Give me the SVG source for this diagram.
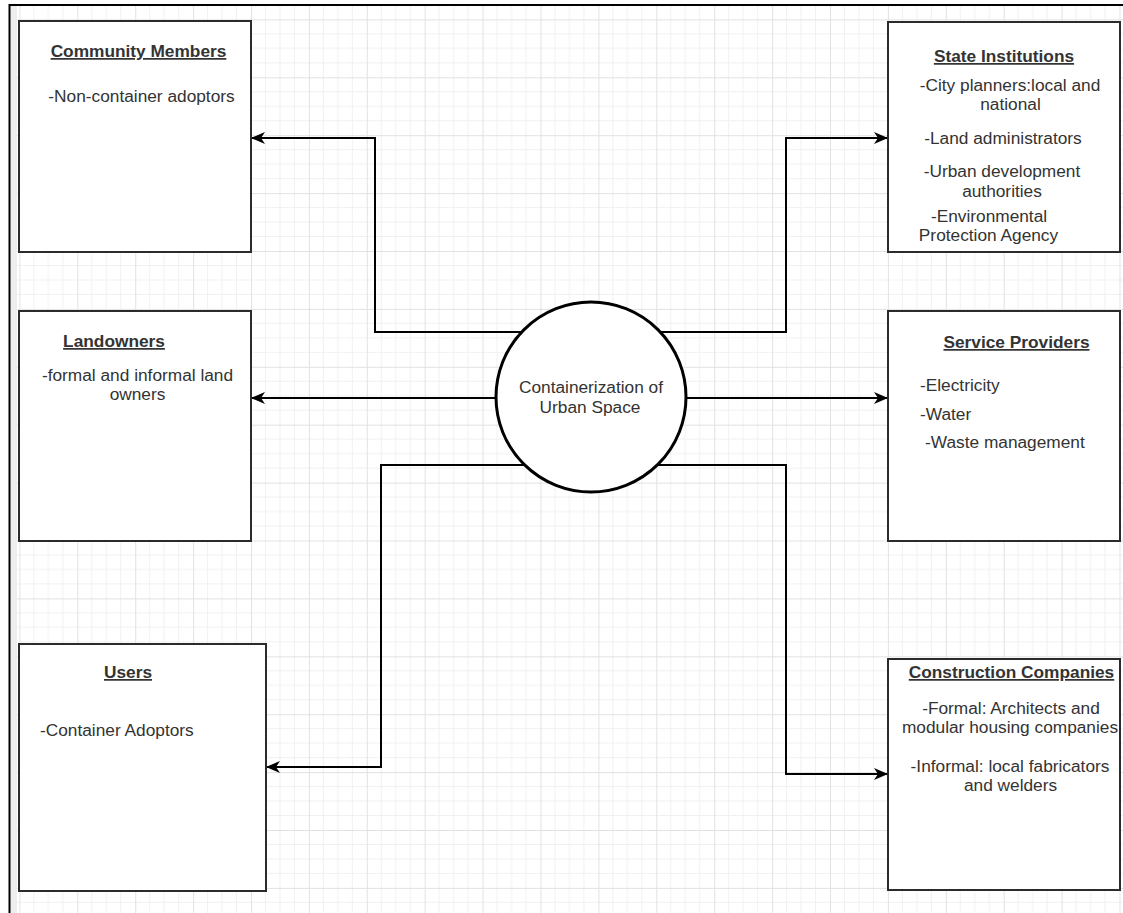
<svg xmlns="http://www.w3.org/2000/svg" width="1123" height="913" viewBox="0 0 1123 913">
  <style>
    .box { fill: #ffffff; stroke: #2b2b2b; stroke-width: 2; }
    .hub { fill: #ffffff; stroke: #000000; stroke-width: 3; }
    .conn { fill: none; stroke: #000000; stroke-width: 2; marker-end: url(#arrow); }
    text { font-family: "Liberation Sans", Arial, Helvetica, sans-serif; font-size: 17.3px; fill: #333333; }
    .title { font-weight: bold; text-decoration: underline; }
    .mid { text-anchor: middle; }
  </style>
  <defs>
    <marker id="arrow" markerUnits="userSpaceOnUse" viewBox="0 0 14 12" refX="14" refY="6" markerWidth="14" markerHeight="12" orient="auto">
      <path d="M0,0 L14,6 L0,12 L4,6 Z" fill="#000000"/>
    </marker>
    <pattern id="grid" patternUnits="userSpaceOnUse" x="19.4" y="19.4" width="57.9" height="57.9">
      <path d="M14.475,0 V57.9 M28.95,0 V57.9 M43.425,0 V57.9 M0,14.475 H57.9 M0,28.95 H57.9 M0,43.425 H57.9" stroke="#f1f1f1" stroke-width="1" fill="none"/>
      <path d="M0.5,0 V57.9 M0,0.5 H57.9" stroke="#e2e2e2" stroke-width="1" fill="none"/>
    </pattern>
  </defs>

  <rect x="0" y="0" width="1123" height="913" fill="#ffffff"/>
  <rect x="10" y="6" width="1113" height="907" fill="url(#grid)"/>
  <rect x="10.5" y="6" width="6.5" height="907" fill="#eeeeee"/>
  <path d="M9.5,4 V913 M9,5 H1123" stroke="#000000" stroke-width="2" fill="none"/>

  <g id="connectors">
    <path class="conn" d="M521.7,332 H375 V138 H251"/>
    <path class="conn" d="M660.3,332 H786 V138 H888"/>
    <path class="conn" d="M496,398 H251"/>
    <path class="conn" d="M686,398 H888"/>
    <path class="conn" d="M524.7,465 H381 V767 H266"/>
    <path class="conn" d="M657.3,465 H786 V774 H888"/>
  </g>

  <g id="hub">
    <circle class="hub" cx="591" cy="397" r="95"/>
    <text class="mid" x="591" y="393">Containerization of</text>
    <text class="mid" x="590" y="413">Urban Space</text>
  </g>

  <g id="community-members">
    <rect class="box" x="19" y="21" width="232" height="231"/>
    <text class="title mid" x="138.5" y="57">Community Members</text>
    <text class="mid" x="141.5" y="101.5">-Non-container adoptors</text>
  </g>

  <g id="state-institutions">
    <rect class="box" x="888" y="22" width="232" height="230"/>
    <text class="title mid" x="1004" y="62">State Institutions</text>
    <text class="mid" x="1010" y="90.5">-City planners:local and</text>
    <text class="mid" x="1010.5" y="110">national</text>
    <text class="mid" x="1003" y="144">-Land administrators</text>
    <text class="mid" x="1002" y="176.5">-Urban development</text>
    <text class="mid" x="1002" y="196.5">authorities</text>
    <text class="mid" x="989" y="221.5">-Environmental</text>
    <text class="mid" x="988.5" y="240.5">Protection Agency</text>
  </g>

  <g id="landowners">
    <rect class="box" x="19" y="311" width="232" height="230"/>
    <text class="title mid" x="114" y="347">Landowners</text>
    <text class="mid" x="137.5" y="380.5">-formal and informal land</text>
    <text class="mid" x="137.5" y="400">owners</text>
  </g>

  <g id="service-providers">
    <rect class="box" x="888" y="311" width="232" height="230"/>
    <text class="title mid" x="1016.5" y="348">Service Providers</text>
    <text x="920" y="390.5">-Electricity</text>
    <text x="920" y="420">-Water</text>
    <text x="925" y="448">-Waste management</text>
  </g>

  <g id="users">
    <rect class="box" x="19" y="644" width="247" height="247"/>
    <text class="title mid" x="128" y="678">Users</text>
    <text x="40" y="736">-Container Adoptors</text>
  </g>

  <g id="construction-companies">
    <rect class="box" x="888" y="659" width="232" height="231"/>
    <text class="title mid" x="1011.5" y="678">Construction Companies</text>
    <text class="mid" x="1011" y="714">-Formal: Architects and</text>
    <text class="mid" x="1010" y="733">modular housing companies</text>
    <text class="mid" x="1010" y="771.5">-Informal: local fabricators</text>
    <text class="mid" x="1010.5" y="790.5">and welders</text>
  </g>
</svg>
